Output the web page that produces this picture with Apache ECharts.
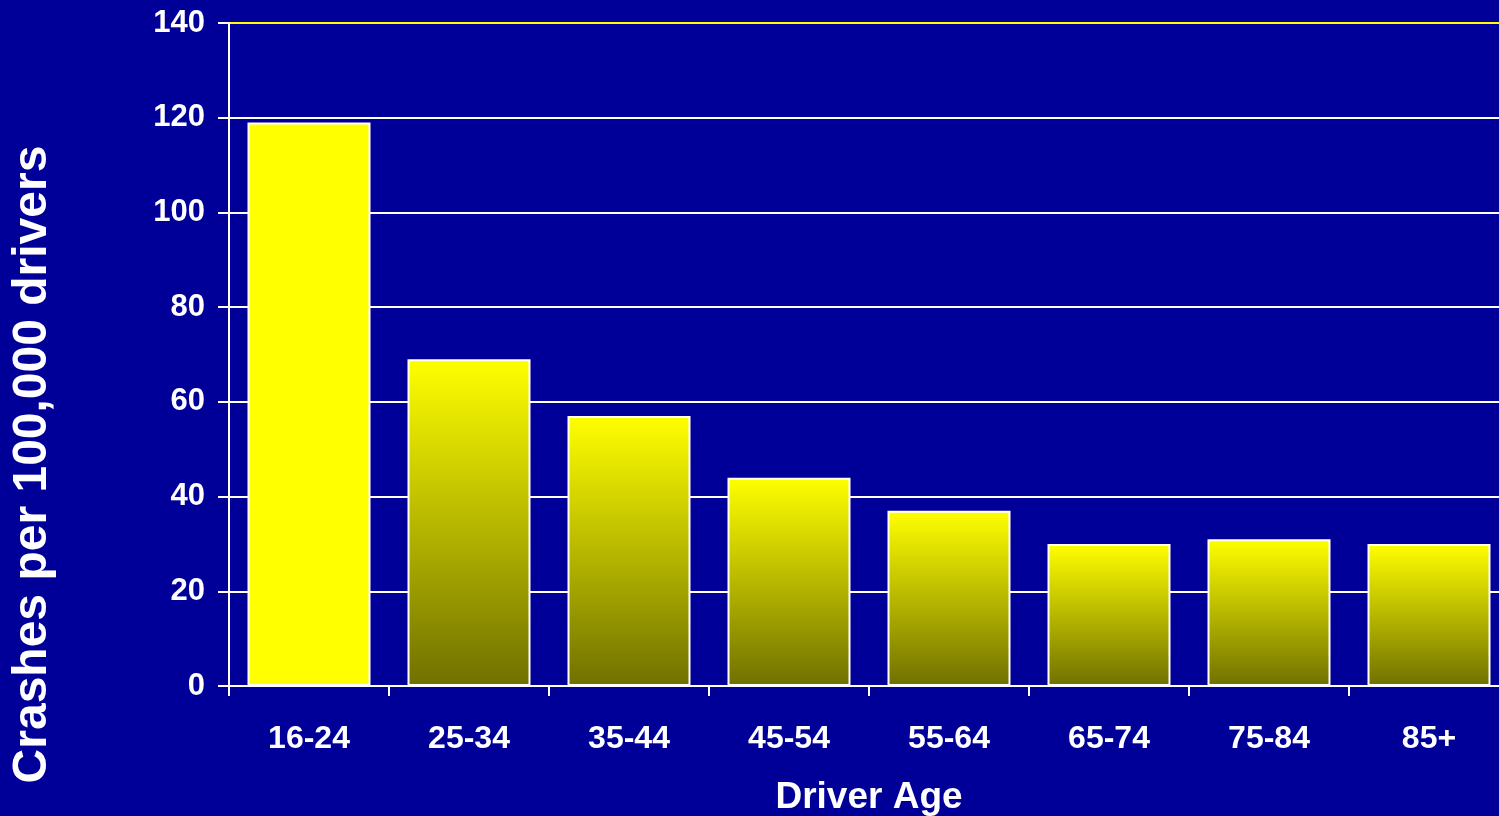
<!DOCTYPE html>
<html>
<head>
<meta charset="utf-8">
<script src="https://cdn.jsdelivr.net/npm/echarts@6/dist/echarts.min.js"></script>
<style>
html,body{margin:0;padding:0;background:#000099;}
#c{width:1499px;height:816px;}
</style>
</head>
<body>
<div id="c"></div>
<script>
const categories = ['16-24','25-34','35-44','45-54','55-64','65-74','75-84','85+'];
const crashes = [119, 69, 57, 44, 37, 30, 31, 30];
const yTicks = [0, 20, 40, 60, 80, 100, 120, 140];
const xTitle = 'Driver Age';
const yTitle = 'Crashes per 100,000 drivers';

const FONT = '"Liberation Sans", Arial, sans-serif';
const gradient = new echarts.graphic.LinearGradient(0, 0, 0, 1, [
  {offset: 0, color: '#ffff00'},
  {offset: 1, color: '#707000'}
]);
const seriesData = crashes.map((v, i) => ({
  value: v,
  itemStyle: {color: i === 0 ? '#ffff00' : gradient}
}));

const chart = echarts.init(document.getElementById('c'));
chart.setOption({
  backgroundColor: '#000099',
  animation: false,
  grid: {left: 229, width: 1280, top: 23, bottom: 130, containLabel: false, outerBoundsMode: 'none'},
  xAxis: {
    type: 'category',
    data: categories,
    name: xTitle,
    nameLocation: 'middle',
    nameGap: 93,
    nameTextStyle: {color: '#fff', fontSize: 37, fontWeight: 'bold', fontFamily: FONT},
    axisLine: {lineStyle: {color: '#fff', width: 2}},
    axisTick: {show: true, length: 10, lineStyle: {color: '#fff', width: 2}, alignWithLabel: false},
    axisLabel: {color: '#fff', fontSize: 32, fontWeight: 'bold', fontFamily: FONT, margin: 37},
    splitLine: {show: false}
  },
  yAxis: {
    type: 'value',
    min: yTicks[0],
    max: yTicks[yTicks.length - 1],
    interval: yTicks[1] - yTicks[0],
    name: yTitle,
    nameLocation: 'middle',
    nameGap: 172,
    nameTextStyle: {color: '#fff', fontSize: 48, fontWeight: 'bold', fontFamily: FONT, padding: [0, 220, 0, 0]},
    axisLine: {show: true, lineStyle: {color: '#fff', width: 2}},
    axisTick: {show: true, length: 11, lineStyle: {color: '#fff', width: 2}},
    axisLabel: {color: '#fff', fontSize: 31, fontWeight: 'bold', fontFamily: FONT, margin: 24},
    splitLine: {show: true, lineStyle: {color: ['#fff','#fff','#fff','#fff','#fff','#fff','#fff','#ffff00'], width: 2}}
  },
  series: [{
    type: 'bar',
    data: seriesData,
    barWidth: 123,
    itemStyle: {borderColor: '#fff', borderWidth: 2}
  }]
});
</script>
</body>
</html>
